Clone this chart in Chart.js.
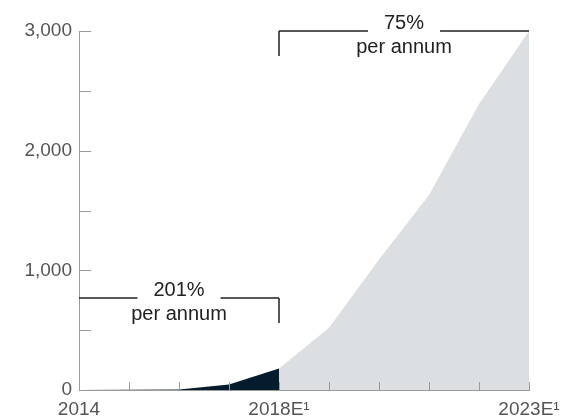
<!DOCTYPE html>
<html>
<head>
<meta charset="utf-8">
<script src="https://cdn.jsdelivr.net/npm/chart.js@4.4.1/dist/chart.umd.min.js"></script>
<style>
    html, body { margin: 0; padding: 0; background: #ffffff; }
    #wrap { width: 572px; height: 418px; }
</style>
</head>
<body>
<div id="wrap"><canvas id="chart" width="572" height="418"></canvas></div>
<script>
// Data
const years = ['2014', '2015', '2016', '2017', '2018E¹', '2019E', '2020E', '2021E', '2022E', '2023E¹'];
const xTickLabels = ['2014', '', '', '', '2018E¹', '', '', '', '', '2023E¹'];
const actualValues = [0, 2, 5, 45, 180, null, null, null, null, null];
const forecastValues = [null, null, null, null, 180, 520, 1090, 1630, 2390, 3000];
const yTickLabels = { 0: '0', 1000: '1,000', 2000: '2,000', 3000: '3,000' };

// growth brackets: from/to are category indexes, level is the y value of the bracket line
const brackets = [
    { from: 0, to: 4, level: 770, rate: '201%', note: 'per annum', dropAt: 4 },
    { from: 4, to: 9, level: 3000, rate: '75%', note: 'per annum', dropAt: 4 }
];

const FONT = '"Liberation Sans", Arial, sans-serif';
const AXIS_GREY = '#9a9a9a';

// inward tick marks on both axes
const innerTicks = {
    id: 'innerTicks',
    afterDraw(chart) {
        const ctx = chart.ctx;
        const x = chart.scales.x;
        const y = chart.scales.y;
        const area = chart.chartArea;
        ctx.save();
        ctx.strokeStyle = AXIS_GREY;
        ctx.lineWidth = 1;
        ctx.beginPath();
        for (let i = 1; i < years.length; i++) {
            const px = Math.round(x.getPixelForValue(i)) + 0.5;
            ctx.moveTo(px, area.bottom);
            ctx.lineTo(px, area.bottom - 8);
        }
        for (let v = 500; v <= 3000; v += 500) {
            const py = Math.round(y.getPixelForValue(v)) + 0.5;
            ctx.moveTo(area.left, py);
            ctx.lineTo(area.left + 12, py);
        }
        ctx.stroke();
        ctx.restore();
    }
};

// growth rate brackets with labels
const growthBrackets = {
    id: 'growthBrackets',
    afterDraw(chart) {
        const ctx = chart.ctx;
        const x = chart.scales.x;
        const y = chart.scales.y;
        ctx.save();
        ctx.font = '20px ' + FONT;
        ctx.fillStyle = '#222222';
        ctx.strokeStyle = '#222222';
        ctx.lineWidth = 1.5;
        brackets.forEach(b => {
            const x1 = x.getPixelForValue(b.from);
            const x2 = x.getPixelForValue(b.to);
            const ly = Math.round(y.getPixelForValue(b.level));
            const mid = (x1 + x2) / 2;
            const half = ctx.measureText(b.rate).width / 2 + 16;
            ctx.beginPath();
            ctx.moveTo(x1, ly);
            ctx.lineTo(mid - half, ly);
            ctx.moveTo(mid + half, ly);
            ctx.lineTo(x2, ly);
            const dx = x.getPixelForValue(b.dropAt);
            ctx.moveTo(dx, ly);
            ctx.lineTo(dx, ly + 25);
            ctx.stroke();
            ctx.textAlign = 'center';
            ctx.textBaseline = 'alphabetic';
            ctx.fillText(b.rate, mid, ly - 2);
            ctx.fillText(b.note, mid, ly + 22);
        });
        ctx.restore();
    }
};

new Chart(document.getElementById('chart'), {
    type: 'line',
    data: {
        labels: years,
        datasets: [
            {
                label: 'Actual',
                data: actualValues,
                backgroundColor: '#051c2c',
                borderWidth: 0,
                pointRadius: 0,
                tension: 0,
                fill: 'origin'
            },
            {
                label: 'Forecast',
                data: forecastValues,
                backgroundColor: '#dcdfe2',
                borderWidth: 0,
                pointRadius: 0,
                tension: 0,
                fill: 'origin'
            }
        ]
    },
    options: {
        responsive: false,
        animation: false,
        layout: { padding: { top: 31, right: 43, left: 0, bottom: 0 } },
        plugins: {
            legend: { display: false },
            tooltip: { enabled: false }
        },
        scales: {
            x: {
                offset: false,
                grid: { display: false, drawTicks: false },
                border: { display: true, color: AXIS_GREY, width: 1 },
                ticks: {
                    autoSkip: false,
                    maxRotation: 0,
                    padding: 8,
                    color: '#555555',
                    font: { family: FONT, size: 19 },
                    callback: (value, index) => xTickLabels[index]
                },
                afterFit: scale => { scale.height = 28; }
            },
            y: {
                min: 0,
                max: 3000,
                grid: { display: false, drawTicks: false },
                border: { display: true, color: AXIS_GREY, width: 1 },
                ticks: {
                    stepSize: 500,
                    padding: 7,
                    color: '#555555',
                    font: { family: FONT, size: 19 },
                    callback: value => yTickLabels[value] !== undefined ? yTickLabels[value] : ''
                },
                afterFit: scale => { scale.width = 79; }
            }
        }
    },
    plugins: [innerTicks, growthBrackets]
});
</script>
</body>
</html>
